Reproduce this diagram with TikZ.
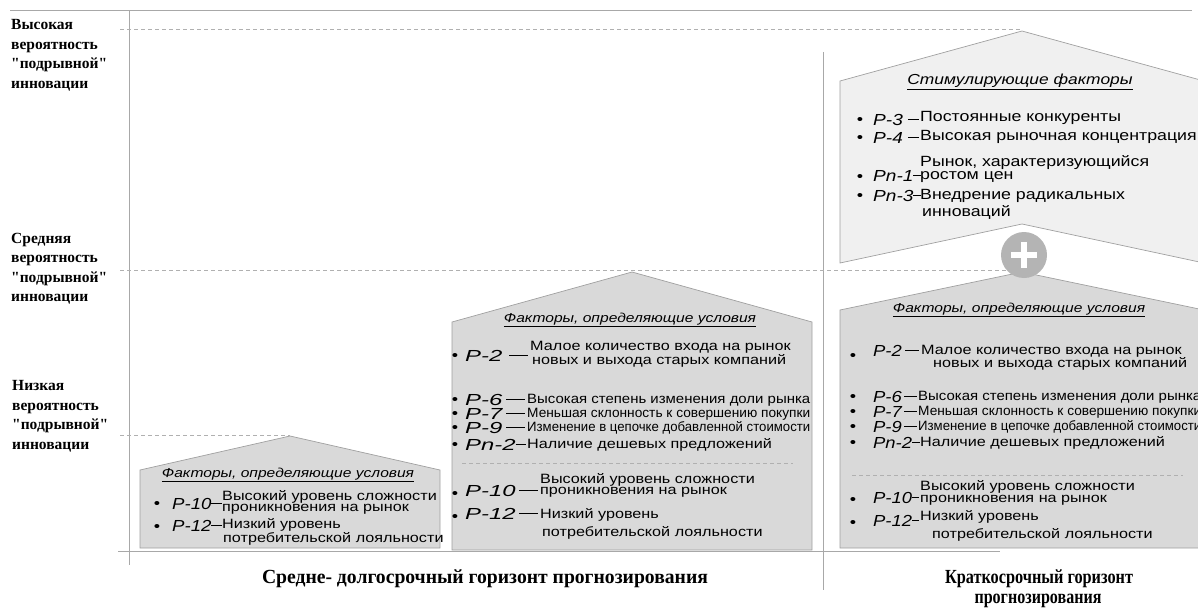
\documentclass[tikz,border=0pt]{standalone}
\usepackage{fontspec}
\setmainfont{Liberation Sans}[FakeStretch=1.2]
\newfontfamily\axfont{Liberation Serif}
\newfontfamily\labS{Liberation Sans}[FakeStretch=1.16]
\newfontfamily\labM{Liberation Sans}[FakeStretch=1.49]
\newfontfamily\labR{Liberation Sans}[FakeStretch=1.15]
\newfontfamily\labT{Liberation Sans}[FakeStretch=1.19]
\usepackage{graphicx}
\definecolor{houseg}{HTML}{D9D9D9}
\definecolor{stimg}{HTML}{F0F0F0}
\definecolor{edgeg}{HTML}{A0A0A0}
\definecolor{guideg}{HTML}{B0B0B0}
\definecolor{axisg}{HTML}{A8A8A8}
\definecolor{plusg}{HTML}{B4B4B4}
\newcommand{\narrow}[1]{\resizebox{283pt}{\height}{#1}}
% label with its dash: width, label, dash length
\newcommand{\pl}[3]{\hbox to #1pt{#2\hfill\rule[5.1pt]{#3pt}{1.3pt}}}
\begin{document}
\begin{tikzpicture}[x=1pt,y=-1pt,
  house/.style={fill=houseg,draw=edgeg,line width=.7pt},
  stim/.style={fill=stimg,draw=edgeg,line width=.7pt},
  guide/.style={draw=guideg,dash pattern=on 4pt off 3pt,line width=.7pt},
  axis/.style={draw=axisg,line width=1pt},
  ttl/.style={inner sep=0pt,font=\fontsize{13}{13}\selectfont\itshape},
  bul/.style={inner sep=0pt,font=\fontsize{15}{15}\selectfont},
  lab/.style={inner sep=0pt,anchor=west,font=#1\fontsize{16}{16}\selectfont\itshape},
  txt/.style={inner sep=0pt,anchor=west,font=\fontsize{13.5}{13.5}\selectfont},
  big/.style={inner sep=0pt,anchor=west,font=\fontsize{14.8}{14.8}\selectfont},
  axl/.style={inner sep=0pt,anchor=west,align=left,font=\axfont\bfseries\fontsize{15.5}{19.5}\selectfont},
  hzl/.style={inner sep=0pt,font=\axfont\bfseries\fontsize{20}{20}\selectfont}]
  \clip (0,0) rectangle (1198,610);

  % houses
  \draw[house] (140,548) -- (140,470) -- (290,436) -- (440,470) -- (440,548) -- cycle;
  \draw[house] (452,550) -- (452,322) -- (632,272) -- (812,322) -- (812,550) -- cycle;
  \draw[house] (840,548) -- (840,310) -- (1022,272) -- (1204,310) -- (1204,548) -- cycle;
  \draw[stim] (840,263) -- (840,81) -- (1022,31) -- (1204,81) -- (1204,263) -- (1022,224) -- cycle;

  % axes and guides
  \coordinate (tl) at (10,11);
  \coordinate (tr) at (1192,11);
  \coordinate (vt) at (129.5,11);
  \coordinate (vb) at (129.5,565);
  \coordinate (bl) at (118,551);
  \coordinate (br) at (1000,551);
  \coordinate (dt) at (823,52);
  \coordinate (db) at (823,590);
  \draw[axis] (tl) -- (tr);
  \draw[axis] (vt) -- (vb);
  \draw[axis] (bl) -- (br);
  \draw[axis,line width=.8pt] (dt) -- (db);
  \coordinate (gh) at (120,29);
  \coordinate (ah) at (1022,29);
  \coordinate (gm) at (120,270);
  \coordinate (am) at (1012,270);
  \coordinate (gl) at (120,435);
  \coordinate (al) at (290,435);
  \draw[guide] (gh) -- (ah);
  \draw[guide] (gm) -- (am);
  \draw[guide] (gl) -- (al);
  \coordinate (ms1) at (462,463);
  \coordinate (ms2) at (793,463);
  \coordinate (rs1) at (852,475);
  \coordinate (rs2) at (1183,475);
  \draw[guide,line width=.5pt] (ms1) -- (ms2);
  \draw[guide,line width=.5pt] (rs1) -- (rs2);

  % plus
  \node[circle,fill=plusg,minimum size=46pt,inner sep=0pt] (plus) at (1024,255) {};
  \draw[white,line width=6pt] ([xshift=-13pt]plus.center) -- ([xshift=13pt]plus.center);
  \draw[white,line width=6pt] ([yshift=-13pt]plus.center) -- ([yshift=13pt]plus.center);

  % axis labels
  \node[axl] (hi) at (11,55.5) {Высокая\\вероятность\\"подрывной"\\инновации};
  \node[axl] (mid) at (11,268.5) {Средняя\\вероятность\\"подрывной"\\инновации};
  \node[axl] (lo) at (12,416.5) {Низкая\\вероятность\\"подрывной"\\инновации};
  \node[hzl] (long) at (485,579) {\resizebox{446pt}{\height}{Средне- долгосрочный горизонт прогнозирования}};
  \node[hzl] (short1) at (1039,579) {\resizebox{188pt}{\height}{Краткосрочный горизонт}};
  \node[hzl] (short2) at (1038,601) {\resizebox{127pt}{\height}{прогнозирования}};

  % stimulating factors
  \node[ttl,font=\fontsize{14.5}{14.5}\selectfont\itshape] (st) at (1020,82) {\underline{Стимулирующие факторы}};
  \node[bul] (t1b) at (860,121) {\textbullet};
  \node[lab=\labT] (t1l) at (873,120) {\pl{46}{P-3}{11}};
  \node[big] (t1t) at (920,118) {Постоянные конкуренты};
  \node[bul] (t2b) at (860,139) {\textbullet};
  \node[lab=\labT] (t2l) at (873,138) {\pl{46}{P-4}{11}};
  \node[big] (t2t) at (920,137) {Высокая рыночная концентрация};
  \node[bul] (t3b) at (860,178) {\textbullet};
  \node[lab=\labT] (t3l) at (873,176) {\pl{46}{Pn-1}{8}};
  \node[big] (t3t) at (920,163) {Рынок, характеризующийся};
  \node[big] (t3u) at (920,177) {ростом цен};
  \node[bul] (t4b) at (860,197) {\textbullet};
  \node[lab=\labT] (t4l) at (873,196) {\pl{46}{Pn-3}{8}};
  \node[big] (t4t) at (920,196) {Внедрение радикальных};
  \node[big] (t4u) at (922,212) {инноваций};

  % right column conditions
  \node[ttl] (rt) at (1019,310) {\underline{Факторы, определяющие условия}};
  \node[bul] (r1b) at (853,357) {\textbullet};
  \node[lab=\labR] (r1l) at (873,351) {\pl{46}{P-2}{14}};
  \node[txt] (r1t) at (921,351) {Малое количество входа на рынок};
  \node[txt] (r1u) at (933,364) {новых и выхода старых компаний};
  \node[bul] (r2b) at (853,398) {\textbullet};
  \node[lab=\labR] (r2l) at (873,397) {\pl{44}{P-6}{13}};
  \node[txt] (r2t) at (918,397) {\narrow{Высокая степень изменения доли рынка}};
  \node[bul] (r3b) at (853,413) {\textbullet};
  \node[lab=\labR] (r3l) at (873,412) {\pl{44}{P-7}{13}};
  \node[txt] (r3t) at (918,412) {\narrow{Меньшая склонность к совершению покупки}};
  \node[bul] (r4b) at (853,428) {\textbullet};
  \node[lab=\labR] (r4l) at (873,427) {\pl{44}{P-9}{13}};
  \node[txt] (r4t) at (918,427) {\narrow{Изменение в цепочке добавленной стоимости}};
  \node[bul] (r5b) at (853,444) {\textbullet};
  \node[lab=\labR] (r5l) at (873,443) {\pl{46}{Pn-2}{8}};
  \node[txt] (r5t) at (920,443) {Наличие дешевых предложений};
  \node[bul] (r6b) at (853,501) {\textbullet};
  \node[lab=\labR] (r6l) at (873,498) {\pl{46}{P-10}{7}};
  \node[txt] (r6t) at (920,486.5) {Высокий уровень сложности};
  \node[txt] (r6u) at (920,500) {проникновения на рынок};
  \node[bul] (r7b) at (853,524) {\textbullet};
  \node[lab=\labR] (r7l) at (873,521) {\pl{46}{P-12}{7}};
  \node[txt] (r7t) at (920,517) {Низкий уровень};
  \node[txt] (r7u) at (932,535) {потребительской лояльности};

  % middle house
  \node[ttl] (mt) at (630,320) {\underline{Факторы, определяющие условия}};
  \node[bul] (m1b) at (455,357) {\textbullet};
  \node[lab=\labM] (m1l) at (465,356) {\pl{63}{P-2}{19}};
  \node[txt] (m1t) at (530,347.5) {Малое количество входа на рынок};
  \node[txt] (m1u) at (532,361) {новых и выхода старых компаний};
  \node[bul] (m2b) at (455,401) {\textbullet};
  \node[lab=\labM] (m2l) at (465,400) {\pl{60}{P-6}{19}};
  \node[txt] (m2t) at (527,400) {\narrow{Высокая степень изменения доли рынка}};
  \node[bul] (m3b) at (455,415) {\textbullet};
  \node[lab=\labM] (m3l) at (465,414) {\pl{60}{P-7}{19}};
  \node[txt] (m3t) at (527,414) {\narrow{Меньшая склонность к совершению покупки}};
  \node[bul] (m4b) at (455,429) {\textbullet};
  \node[lab=\labM] (m4l) at (465,428) {\pl{60}{P-9}{19}};
  \node[txt] (m4t) at (527,428) {\narrow{Изменение в цепочке добавленной стоимости}};
  \node[bul] (m5b) at (455,446) {\textbullet};
  \node[lab=\labM] (m5l) at (465,445) {\pl{60}{Pn-2}{10}};
  \node[txt] (m5t) at (527,445) {Наличие дешевых предложений};
  \node[bul] (m6b) at (455,495) {\textbullet};
  \node[lab=\labM] (m6l) at (465,491) {\pl{73}{P-10}{19}};
  \node[txt] (m6t) at (540,479.5) {Высокий уровень сложности};
  \node[txt] (m6u) at (540,492.5) {проникновения на рынок};
  \node[bul] (m7b) at (455,518) {\textbullet};
  \node[lab=\labM] (m7l) at (465,514) {\pl{73}{P-12}{19}};
  \node[txt] (m7t) at (540,515) {Низкий уровень};
  \node[txt] (m7u) at (542,533) {потребительской лояльности};

  % small house
  \node[ttl] (lt) at (288,475) {\underline{Факторы, определяющие условия}};
  \node[bul] (l1b) at (157,505) {\textbullet};
  \node[lab=\labS] (l1l) at (172,504) {\pl{49}{P-10}{11}};
  \node[txt] (l1t) at (222,496.5) {Высокий уровень сложности};
  \node[txt] (l1u) at (222,509.5) {проникновения на рынок};
  \node[bul] (l2b) at (157,528) {\textbullet};
  \node[lab=\labS] (l2l) at (172,526) {\pl{49}{P-12}{11}};
  \node[txt] (l2t) at (222,525) {Низкий уровень};
  \node[txt] (l2u) at (223,539) {потребительской лояльности};
\end{tikzpicture}
\end{document}
